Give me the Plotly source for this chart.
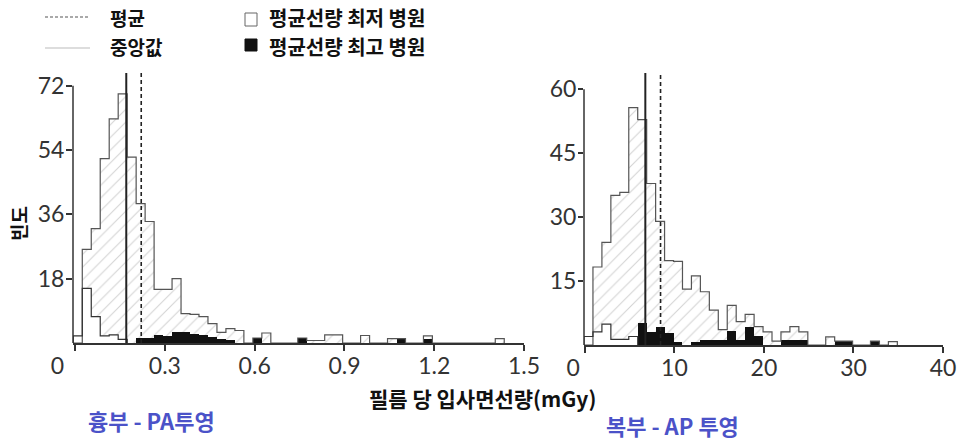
import plotly.graph_objects as go

# ---------------- data ----------------
# Left panel: chest PA, bins of 0.03 mGy starting at -0.006
LEFT_BIN_START = -0.006
LEFT_BIN_WIDTH = 0.03
left_all = [0, 26.2, 32, 51.6, 62.7, 69.7, 52, 39, 34, 15, 15, 18, 8.2, 8, 7.4, 5.4,
            3.0, 4.0, 3.5, 0, 1.4, 2.8, 0, 0, 0, 1.4, 0.7, 0.7, 2.3, 2.3, 0, 0,
            2.1, 0, 0, 1.2, 1.2, 0, 0, 2.0, 0, 0, 0, 0, 0, 0, 0, 1.2]
left_low = [2, 15.3, 7.4, 2, 2.3, 1]
left_high = [0, 0, 0, 0, 0, 0, 0, 1.3, 1.3, 2.2, 2.0, 3.0, 3.0, 2.4, 2.3, 1.8,
             1.2, 0.9, 0, 0, 1.4, 0, 0, 0, 0, 1.4, 0, 0, 0, 0, 0, 0,
             0, 0, 0, 0, 1.2, 0, 0, 1.2]
left_median = 0.171
left_mean = 0.221
left_xticks = [0, 0.3, 0.6, 0.9, 1.2, 1.5]
left_xticktext = ["0", "0.3", "0.6", "0.9", "1.2", "1.5"]
left_yticks = [18, 36, 54, 72]

# Right panel: abdomen AP, bins of 1 mGy starting at -0.1
RIGHT_BIN_START = -0.1
RIGHT_BIN_WIDTH = 1.0
right_all = [0, 18.3, 24.1, 35.1, 35.8, 55.7, 52.9, 37.9, 29, 19.8, 19.6, 13.1, 16.2,
             12.5, 8.2, 3.6, 9.3, 5.5, 7.2, 4.3, 3.1, 0.9, 3.1, 4.3, 3.1, 0, 0,
             1.9, 0.9, 0.9, 0, 0, 0.9, 0, 0.8]
right_low = [2, 3.1, 4.9, 1.3, 1.3, 2]
right_high = [0, 0, 0, 0, 0, 0, 5.1, 3.1, 4.3, 2.7, 0.8, 0, 0.8, 1.2, 1.2, 1.2,
              3.3, 1.2, 4.3, 2.2, 0, 0, 1.2, 1.2, 1.2, 0, 0, 0, 0.9, 0.9, 0, 0, 0.9]
right_median = 6.75
right_mean = 8.45
right_xticks = [0, 10, 20, 30, 40]
right_xticktext = ["0", "10", "20", "30", "40"]
right_yticks = [15, 30, 45, 60]

W, H = 961, 443
TICK_FONT = dict(family="Lato", size=23, color="#333333")
KFONT = "Noto Sans CJK KR"
NBSP = "\u00a0"


def px(x):
    return x / W


def py(y):
    return 1 - y / H


def centers(counts, start, width):
    return [start + (i + 0.5) * width for i in range(len(counts))]


def step_xy(counts, start, width):
    xs = [start] + [start + i * width for i in range(len(counts))] + [start + len(counts) * width]
    ys = [0] + list(counts) + [0]
    return xs, ys


fig = go.Figure()


def add_panel(allc, lowc, highc, start, width, med, mean, xa, ya, ytop):
    fig.add_trace(go.Bar(
        x=centers(allc, start, width), y=allc, width=width, xaxis=xa, yaxis=ya,
        marker=dict(color="white", line=dict(width=0),
                    pattern=dict(shape="/", fgcolor="#a8a8a8", bgcolor="white",
                                 size=9, solidity=0.12)),
        hoverinfo="skip"))
    fig.add_trace(go.Bar(
        x=centers(lowc, start, width), y=lowc, width=width, xaxis=xa, yaxis=ya,
        marker=dict(color="white", line=dict(width=0)), hoverinfo="skip"))
    fig.add_trace(go.Bar(
        x=centers(highc, start, width), y=highc, width=width, xaxis=xa, yaxis=ya,
        marker=dict(color="#111111", line=dict(width=0)), hoverinfo="skip"))
    xs, ys = step_xy(allc, start, width)
    fig.add_trace(go.Scatter(x=xs, y=ys, mode="lines", line_shape="hv", xaxis=xa, yaxis=ya,
                             line=dict(color="#555555", width=1.2), hoverinfo="skip"))
    xs, ys = step_xy(lowc, start, width)
    fig.add_trace(go.Scatter(x=xs, y=ys, mode="lines", line_shape="hv", xaxis=xa, yaxis=ya,
                             line=dict(color="#333333", width=1.2), hoverinfo="skip"))
    fig.add_trace(go.Scatter(x=[med, med], y=[0, ytop], mode="lines", xaxis=xa, yaxis=ya,
                             line=dict(color="#222222", width=2), hoverinfo="skip"))
    fig.add_trace(go.Scatter(x=[mean, mean], y=[0, ytop], mode="lines", xaxis=xa, yaxis=ya,
                             line=dict(color="#222222", width=1.6, dash="4px,3px"),
                             hoverinfo="skip"))


LEFT_YTOP = 72 * (343 - 73) / (343 - 85.7)
RIGHT_YTOP = 60 * (345 - 73) / (345 - 89.3)

add_panel(left_all, left_low, left_high, LEFT_BIN_START, LEFT_BIN_WIDTH,
          left_median, left_mean, "x", "y", LEFT_YTOP)
add_panel(right_all, right_low, right_high, RIGHT_BIN_START, RIGHT_BIN_WIDTH,
          right_median, right_mean, "x2", "y2", RIGHT_YTOP)

axis_common = dict(showgrid=False, zeroline=False, ticks="outside",
                   tickcolor="#333333", tickwidth=1.5, tickfont=TICK_FONT,
                   automargin=False)

# the "0" labels sit a little left of the origin in the source
lx_text = [left_xticktext[0] + NBSP * 6] + left_xticktext[1:]
rx_text = [right_xticktext[0] + NBSP * 4] + right_xticktext[1:]

fig.update_layout(
    width=W, height=H, margin=dict(l=0, r=0, t=0, b=0, autoexpand=False),
    paper_bgcolor="white", plot_bgcolor="white", showlegend=False,
    barmode="overlay", bargap=0,
    xaxis=dict(domain=[px(73), px(524)], range=[-0.007, 1.5], anchor="y",
               tickvals=left_xticks, ticktext=lx_text, ticklen=6, ticklabelstandoff=-4,
               showline=True, linecolor="#333333", linewidth=1.5, **axis_common),
    yaxis=dict(domain=[py(343), py(73)], range=[0, LEFT_YTOP], anchor="x",
               tickvals=left_yticks, ticklen=6, showline=False, ticklabelstandoff=-3,
               **axis_common),
    xaxis2=dict(domain=[px(584), px(943)], range=[-0.1, 40], anchor="y2",
                tickvals=right_xticks, ticktext=rx_text, ticklen=6, ticklabelstandoff=-4,
                showline=True, linecolor="#333333", linewidth=1.5, **axis_common),
    yaxis2=dict(domain=[py(345), py(73)], range=[0, RIGHT_YTOP], anchor="x2",
                tickvals=right_yticks, ticklen=5, showline=False, ticklabelstandoff=-3,
                **axis_common),
)

shapes = [
    dict(type="line", xref="x domain", yref="y", x0=0, x1=0, y0=0, y1=72,
         line=dict(color="#333333", width=1.5)),
    dict(type="line", xref="x2 domain", yref="y2", x0=0, x1=0, y0=0, y1=60,
         line=dict(color="#333333", width=1.5)),
    dict(type="line", xref="paper", yref="paper", x0=px(45), x1=px(90), y0=py(17), y1=py(17),
         line=dict(color="#555555", width=1.2, dash="3px,2px")),
    dict(type="line", xref="paper", yref="paper", x0=px(45), x1=px(90), y0=py(48), y1=py(48),
         line=dict(color="#bbbbbb", width=1.2)),
    dict(type="rect", xref="paper", yref="paper", x0=px(245), x1=px(257), y0=py(26), y1=py(13),
         line=dict(color="#666666", width=1), fillcolor="white"),
    dict(type="rect", xref="paper", yref="paper", x0=px(245), x1=px(257), y0=py(51), y1=py(39),
         line=dict(color="#111111", width=1), fillcolor="#111111"),
]
fig.update_layout(shapes=shapes)

ann = [
    dict(text="<b>평균</b>", x=px(108), y=py(18), xanchor="left", size=19, color="#111111"),
    dict(text="<b>중앙값</b>", x=px(108), y=py(47), xanchor="left", size=19, color="#111111"),
    dict(text="<b>평균선량 최저 병원</b>", x=px(267), y=py(18), xanchor="left", size=20, color="#111111"),
    dict(text="<b>평균선량 최고 병원</b>", x=px(267), y=py(46), xanchor="left", size=20, color="#111111"),
    dict(text="<b>필름 당 입사면선량(mGy)</b>", x=px(482), y=py(398), xanchor="center", size=21, color="#111111"),
    dict(text="<b>흉부 - PA투영</b>", x=px(151), y=py(420), xanchor="center", size=22, color="#4b52c8"),
    dict(text="<b>복부 - AP 투영</b>", x=px(672), y=py(425), xanchor="center", size=22, color="#4b52c8"),
]
annotations = []
for a in ann:
    annotations.append(dict(text=a["text"], x=a["x"], y=a["y"], xref="paper", yref="paper",
                            xanchor=a["xanchor"], yanchor="middle", showarrow=False,
                            font=dict(family=KFONT, size=a["size"], color=a["color"])))
annotations.append(dict(text="<b>빈도</b>", x=px(18), y=py(224), xref="paper", yref="paper",
                        xanchor="center", yanchor="middle", showarrow=False, textangle=-90,
                        font=dict(family=KFONT, size=19, color="#111111")))
fig.update_layout(annotations=annotations)

fig.write_html("out.html")
